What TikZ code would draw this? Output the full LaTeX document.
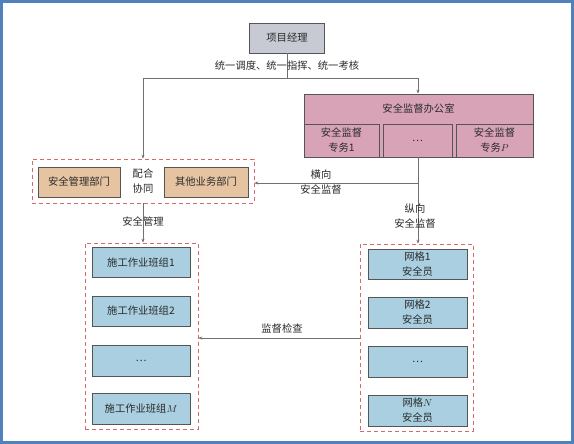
\documentclass[tikz,border=0pt]{standalone}
\usepackage{fontspec}
\setmainfont{Noto Sans CJK SC}
\usetikzlibrary{arrows.meta}
\definecolor{frameblue}{HTML}{4F81BD}
\definecolor{pmgray}{HTML}{C7CAD3}
\definecolor{officepink}{HTML}{D8A3B6}
\definecolor{deptorange}{HTML}{E6C4A2}
\definecolor{teamblue}{HTML}{A9CFE0}
\definecolor{dashred}{HTML}{D46A6E}
\definecolor{boxline}{HTML}{555555}
\definecolor{conn}{HTML}{707070}
\definecolor{txt}{HTML}{2A2A2A}
\begin{document}
\begin{tikzpicture}[x=1pt,y=-1pt,
  every node/.style={font=\fontsize{10.3}{15}\selectfont, text=txt, inner sep=0pt},
  box/.style={draw=boxline, line width=0.8pt, align=center, minimum height=30pt},
  pmbox/.style={box, fill=pmgray},
  subbox/.style={box, fill=officepink, minimum height=33pt},
  deptbox/.style={box, fill=deptorange},
  teambox/.style={box, fill=teamblue, minimum width=98pt},
  gridbox/.style={box, fill=teamblue, minimum width=99pt},
  grp/.style={draw=dashred, line width=0.7pt, dash pattern=on 4pt off 3pt},
  conline/.style={draw=conn, line width=0.6pt},
  arr/.style={conline, -{Stealth[length=4pt,width=3pt]}},
  lbl/.style={align=center}
]
\useasboundingbox (0,0) rectangle (574,444);
\fill[white] (0,0) rectangle (574,444);
\draw[frameblue, line width=3pt] (1.5,1.5) rectangle (572.5,442.5);

% top
\node[pmbox, minimum width=75pt] (pm) at (287,38) {项目经理};
\coordinate (hub) at (287,78);
\coordinate (hl) at (143,78);
\coordinate (hr) at (418,78);
\draw[conline] (pm.south) -- (hub);
\draw[conline] (hl) -- (hr);
\node[lbl] (cmd) at (287,66) {统一调度、统一指挥、统一考核};

% office
\node[draw=boxline, line width=0.8pt, fill=officepink, minimum width=229pt, minimum height=63pt] (office) at (418.5,125.5) {};
\node (officetitle) at (418.5,109) {安全监督办公室};
\node[subbox, minimum width=75pt] (s1) at (341.5,140.5) {安全监督\\专务1};
\node[subbox, minimum width=69pt] (s2) at (417.5,140.5) {…};
\node[subbox, minimum width=77pt] (s3) at (494.5,140.5) {安全监督\\专务$P$};
\draw[arr] (hr) -- (hr |- office.north);

% left departments group
\node[grp, minimum width=222pt, minimum height=44pt] (lgrp) at (143,181) {};
\node[deptbox, minimum width=82pt] (d1) at (79,182) {安全管理部门};
\node[deptbox, minimum width=84pt] (d2) at (206,182) {其他业务部门};
\node[lbl] (coop) at (143,181) {配合\\协同};
\draw[arr] (hl) -- (hl |- lgrp.north);

% teams group
\node[grp, minimum width=113pt, minimum height=186pt] (tgrp) at (141.5,336) {};
\node[teambox] (t1) at (141,262.5) {施工作业班组1};
\node[teambox] (t2) at (141,311) {施工作业班组2};
\node[teambox, minimum height=31pt] (t3) at (141,360.5) {…};
\node[teambox, minimum height=31pt] (t4) at (141,408.5) {施工作业班组$M$};
\draw[arr] (lgrp.south) -- (lgrp.south |- tgrp.north);
\node[lbl] (mgmt) at (143,222) {安全管理};

% grid group
\node[grp, minimum width=113pt, minimum height=187pt] (ggrp) at (416.5,337.5) {};
\node[gridbox] (g1) at (417.5,264) {网格1\\安全员};
\node[gridbox, minimum height=31pt] (g2) at (417.5,312.5) {网格2\\安全员};
\node[gridbox, minimum height=31pt] (g3) at (417.5,361.5) {…};
\node[gridbox, minimum height=31pt] (g4) at (417.5,410.5) {网格$N$\\安全员};

% vertical supervision
\draw[arr] (office.south -| hr) -- (hr |- ggrp.north);
\node[lbl] (vlab) at (415,216) {纵向\\安全监督};
\coordinate (hj) at (418,183);
\draw[arr] (hj) -- (hj -| lgrp.east);
\node[lbl] (hlab) at (321,182.5) {横向\\安全监督};

% inspection
\coordinate (ij) at (360,338);
\draw[arr] (ij -| ggrp.west) -- (ij -| tgrp.east);
\node[lbl] (insp) at (282,329) {监督检查};
\end{tikzpicture}
\end{document}
